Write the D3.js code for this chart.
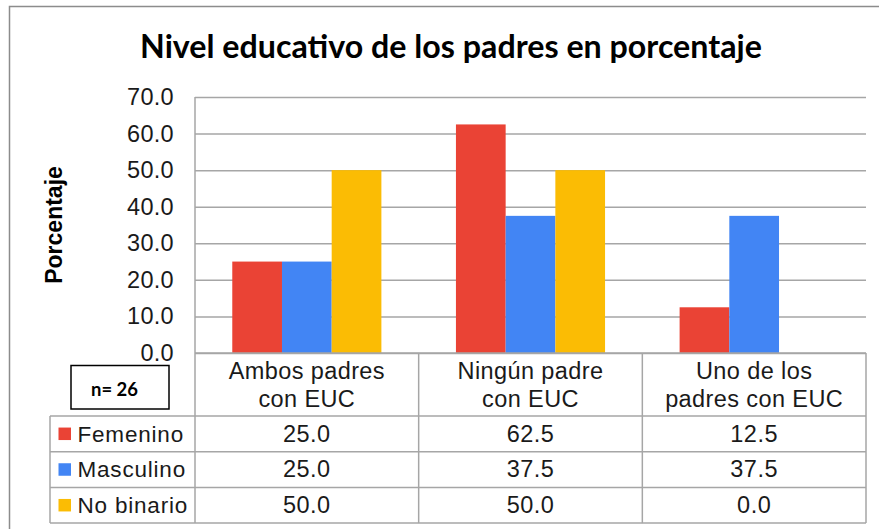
<!DOCTYPE html>
<html>
<head>
<meta charset="utf-8">
<script src="https://cdn.jsdelivr.net/npm/d3@7"></script>
<style>
  body { margin: 0; background: #fff; }
</style>
</head>
<body>
<div id="chart"></div>
<script>
// data
var categories = ['Ambos padres|con EUC', 'Ningún padre|con EUC', 'Uno de los|padres con EUC'];
var seriesNames = ['Femenino', 'Masculino', 'No binario'];
var femenino = [25.0, 62.5, 12.5];
var masculino = [25.0, 37.5, 37.5];
var noBinario = [50.0, 50.0, 0.0];
var yTicks = [0, 10, 20, 30, 40, 50, 60, 70];
var colors = ['#EA4335', '#4285F4', '#FBBC04'];

var seriesValues = [femenino, masculino, noBinario];

var svgWidth = 879;
var svgHeight = 529;
var arial = '"Liberation Sans", Arial, sans-serif';

var plot = { left: 195, right: 866, top: 97, bottom: 353 };
var tableLeft = 50;
var headerBottom = 416;
var rowH = 35.7;

var svg = d3.select('#chart')
    .append('svg')
    .attr('width', svgWidth)
    .attr('height', svgHeight);

// outer frame
svg.append('rect')
    .attr('x', 9.5)
    .attr('y', 6.5)
    .attr('width', 900)
    .attr('height', 600)
    .attr('fill', 'none')
    .attr('stroke', '#8c8c8c')
    .attr('stroke-width', 1.5);

// title
var title = svg.append('text')
    .attr('x', 451)
    .attr('y', 58)
    .attr('text-anchor', 'middle')
    .style('font-family', 'Lato, "Open Sans", sans-serif')
    .style('font-weight', 'bold')
    .style('font-size', '32px')
    .attr('fill', '#000')
    .text('Nivel educativo de los padres en porcentaje');
var tl = title.node().getComputedTextLength();
title.style('font-size', (32 * 622 / tl) + 'px');

// scales
var x0 = d3.scaleBand()
    .domain(categories)
    .range([plot.left, plot.right])
    .padding(0);

var x1 = d3.scaleBand()
    .domain(seriesNames)
    .range([0, x0.bandwidth()])
    .paddingInner(0)
    .paddingOuter(0.75);

var y = d3.scaleLinear()
    .domain([0, 70])
    .range([plot.bottom, plot.top]);

// gridlines
var grid = svg.append('g')
    .attr('transform', `translate(${plot.left},0)`)
    .call(d3.axisRight(y).tickValues(yTicks).tickSize(plot.right - plot.left).tickFormat(''));
grid.select('.domain').remove();
grid.selectAll('line')
    .attr('stroke', '#a6a6a6')
    .attr('stroke-width', 1.5);

// left plot edge
svg.append('line')
    .attr('x1', plot.left).attr('x2', plot.left)
    .attr('y1', plot.top).attr('y2', plot.bottom)
    .attr('stroke', '#a6a6a6')
    .attr('stroke-width', 1.5);

// y tick labels
var yAxis = svg.append('g')
    .attr('transform', `translate(${plot.left},0)`)
    .call(d3.axisLeft(y).tickValues(yTicks).tickSize(0).tickPadding(21).tickFormat(d3.format('.1f')));
yAxis.select('.domain').remove();
yAxis.selectAll('text')
    .style('font-family', arial)
    .style('font-size', '23.5px')
    .style('letter-spacing', '0.3px')
    .attr('fill', '#1a1a1a');

// y axis title
svg.append('text')
    .attr('transform', 'translate(62,225) rotate(-90)')
    .attr('text-anchor', 'middle')
    .style('font-family', arial)
    .style('font-weight', 'bold')
    .style('font-size', '23px')
    .attr('fill', '#000')
    .text('Porcentaje');

// bars
seriesNames.forEach(function(name, si) {
    svg.append('g')
        .selectAll('rect')
        .data(seriesValues[si])
        .enter()
        .append('rect')
        .attr('x', (d, i) => x0(categories[i]) + x1(name))
        .attr('y', d => y(d))
        .attr('width', x1.bandwidth())
        .attr('height', d => y(0) - y(d))
        .attr('fill', colors[si]);
});

// data table
var tbl = svg.append('g');
var lineColor = '#a6a6a6';
var colEdges = [plot.left].concat(categories.map(c => x0(c) + x0.bandwidth()));
var tableBottom = headerBottom + rowH * 3;

// vertical lines
colEdges.forEach(function(xv) {
    tbl.append('line')
        .attr('x1', xv).attr('x2', xv)
        .attr('y1', plot.bottom).attr('y2', tableBottom)
        .attr('stroke', lineColor).attr('stroke-width', 1.5);
});
tbl.append('line')
    .attr('x1', tableLeft).attr('x2', tableLeft)
    .attr('y1', headerBottom).attr('y2', tableBottom)
    .attr('stroke', lineColor).attr('stroke-width', 1.5);

// horizontal lines
tbl.append('line')
    .attr('x1', plot.left).attr('x2', colEdges[3])
    .attr('y1', plot.bottom).attr('y2', plot.bottom)
    .attr('stroke', lineColor).attr('stroke-width', 1.5);
[0, 1, 2, 3].forEach(function(r) {
    var yy = headerBottom + rowH * r;
    tbl.append('line')
        .attr('x1', tableLeft).attr('x2', colEdges[3])
        .attr('y1', yy).attr('y2', yy)
        .attr('stroke', lineColor).attr('stroke-width', 1.5);
});

// header labels
categories.forEach(function(c) {
    var cx = x0(c) + x0.bandwidth() / 2;
    var t = tbl.append('text')
        .attr('x', cx)
        .attr('text-anchor', 'middle')
        .style('font-family', arial)
        .style('font-size', '23.5px')
        .style('letter-spacing', '0.4px')
        .attr('fill', '#1a1a1a');
    c.split('|').forEach(function(line, li) {
        t.append('tspan')
            .attr('x', cx)
            .attr('y', 379 + li * 27.5)
            .text(line);
    });
});

// rows
seriesNames.forEach(function(name, si) {
    var cy = headerBottom + rowH * si + rowH / 2;
    tbl.append('rect')
        .attr('x', 58.5)
        .attr('y', cy - 6.3)
        .attr('width', 12.5)
        .attr('height', 12.5)
        .attr('fill', colors[si]);
    tbl.append('text')
        .attr('x', 77.5)
        .attr('y', cy + 7.8)
        .style('font-family', arial)
        .style('font-size', '22.5px')
        .style('letter-spacing', '0.8px')
        .attr('fill', '#1a1a1a')
        .text(name);
    seriesValues[si].forEach(function(v, ci) {
        tbl.append('text')
            .attr('x', x0(categories[ci]) + x0.bandwidth() / 2)
            .attr('y', cy + 7.8)
            .attr('text-anchor', 'middle')
            .style('font-family', arial)
            .style('font-size', '23.5px')
            .style('letter-spacing', '0.5px')
            .attr('fill', '#1a1a1a')
            .text(d3.format('.1f')(v));
    });
});

// n box
svg.append('rect')
    .attr('x', 71)
    .attr('y', 365.5)
    .attr('width', 98)
    .attr('height', 43.5)
    .attr('fill', '#fff')
    .attr('stroke', '#000')
    .attr('stroke-width', 1.5);
var nText = svg.append('text')
    .attr('x', 114.5)
    .attr('y', 396)
    .attr('text-anchor', 'middle')
    .style('font-family', 'Lato, "Open Sans", sans-serif')
    .style('font-weight', 'bold')
    .style('font-size', '18px')
    .attr('fill', '#000')
    .text('n= 26');
var nw = nText.node().getComputedTextLength();
nText.style('font-size', (18 * 47 / nw) + 'px');
</script>
</body>
</html>
